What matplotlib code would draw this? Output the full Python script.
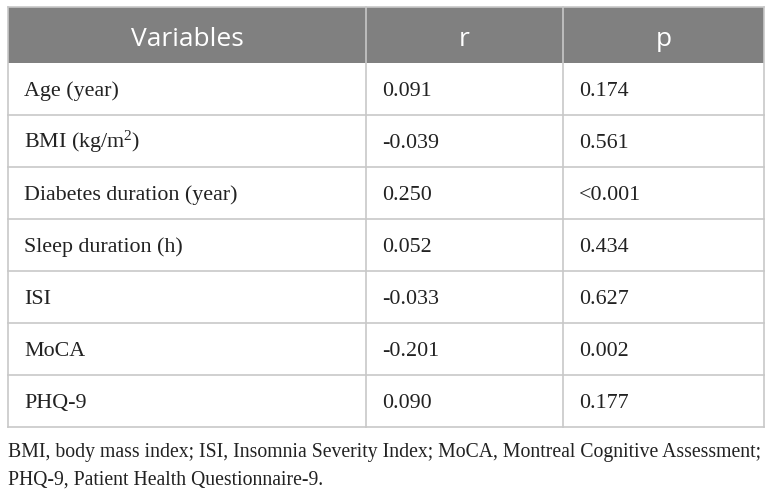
import matplotlib.pyplot as plt
from matplotlib.patches import Rectangle

plt.rcParams['mathtext.fontset'] = 'custom'
plt.rcParams['mathtext.rm'] = 'Liberation Serif'
plt.rcParams['mathtext.it'] = 'Liberation Serif:italic'

# table content
header = ['Variables', 'r', 'p']
variables = ['Age (year)', 'BMI (kg/m$^\\mathrm{2}$)', 'Diabetes duration (year)',
             'Sleep duration (h)', 'ISI', 'MoCA', 'PHQ-9']
r_values = ['0.091', '-0.039', '0.250', '0.052', '-0.033', '-0.201', '0.090']
p_values = ['0.174', '0.561', '<0.001', '0.434', '0.627', '0.002', '0.177']
footnote = ['BMI, body mass index; ISI, Insomnia Severity Index; MoCA, Montreal Cognitive Assessment;',
            'PHQ-9, Patient Health Questionnaire-9.']

W, H = 772, 493
fig = plt.figure(figsize=(W / 100, H / 100), dpi=100)
ax = fig.add_axes([0, 0, 1, 1])
ax.set_xlim(0, W)
ax.set_ylim(H, 0)
ax.axis('off')

# layout in pixel units
col_edges = [8, 366, 563, 764]
header_top, header_bot = 7, 63
row_h = 52
line_col = '#c8c8c8'
head_col = '#808080'

# header band
ax.add_patch(Rectangle((col_edges[0], header_top), col_edges[-1] - col_edges[0],
                       header_bot - header_top, facecolor=head_col, edgecolor='none'))
for i, name in enumerate(header):
    cx = (col_edges[i] + col_edges[i + 1]) / 2
    ax.text(cx, (header_top + header_bot) / 2 + 4, name, ha='center', va='center',
            color='white', fontsize=19, family='Open Sans')

n = len(variables)
table_bot = header_bot + n * row_h

# grid lines
for k in range(1, n + 1):
    y = header_bot + k * row_h
    ax.plot([col_edges[0], col_edges[-1]], [y, y], color=line_col, lw=1.2)
for x in col_edges:
    ax.plot([x, x], [header_top, table_bot], color=line_col, lw=1.2)
ax.plot([col_edges[0], col_edges[-1]], [header_top, header_top], color=line_col, lw=1.2)

# body text (baseline-anchored so the superscript row lines up with the rest)
for k in range(n):
    y = header_bot + k * row_h + row_h / 2 + 7
    for i, val in enumerate([variables[k], r_values[k], p_values[k]]):
        ax.text(col_edges[i] + 16, y, val, ha='left', va='baseline',
                fontsize=15.8, family='Liberation Serif', color='#222222')

# footnote
for j, line in enumerate(footnote):
    ax.text(col_edges[0], table_bot + 26 + j * 27, line, ha='left', va='center',
            fontsize=14.2, family='Liberation Serif', color='#222222')

fig.savefig('out.png', dpi=100)
